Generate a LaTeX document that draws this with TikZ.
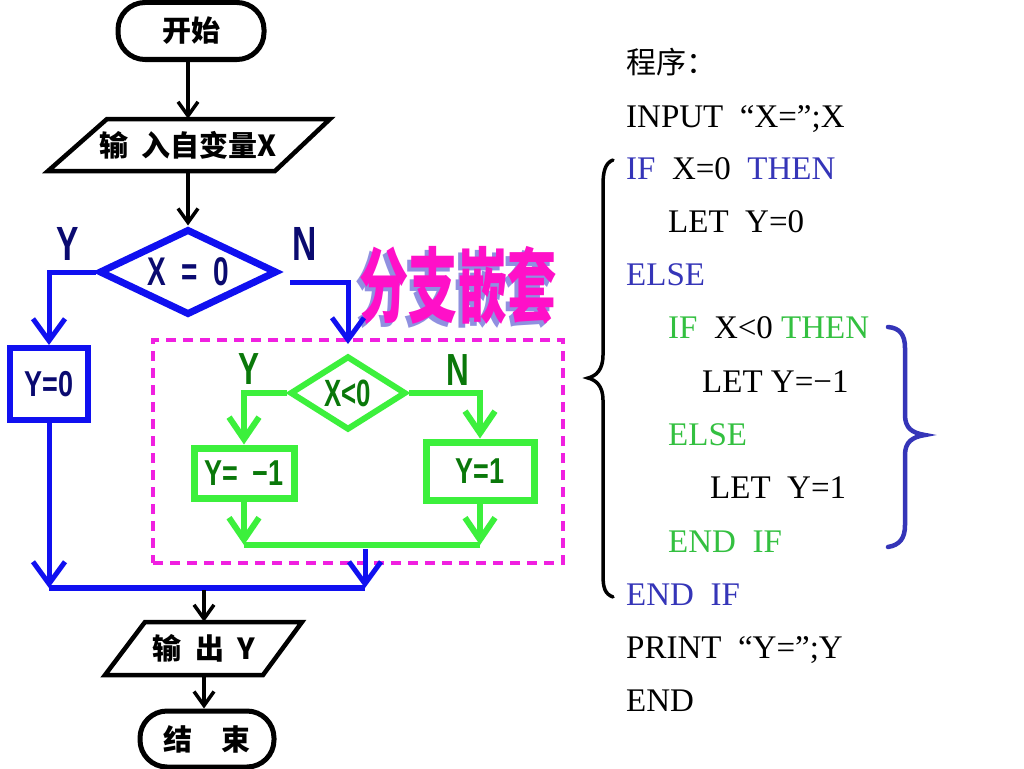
\documentclass[tikz,border=0pt]{standalone}
\usepackage{fontspec}
\setmainfont{Liberation Serif}
\newfontfamily\cjk{Noto Sans CJK SC}
\newfontfamily\arial{Liberation Sans}
\usetikzlibrary{arrows.meta,shapes.geometric}
\definecolor{fblue}{HTML}{1010F0}
\definecolor{fgreen}{HTML}{3CF03C}
\definecolor{dgreen}{HTML}{0A780A}
\definecolor{navy}{HTML}{0A0A70}
\definecolor{cblue}{HTML}{3535B8}
\definecolor{cgreen}{HTML}{33C040}
\definecolor{mag}{HTML}{F020E0}
\definecolor{pinkt}{HTML}{FF10C8}
\definecolor{shadowt}{HTML}{9090E0}
\begin{document}
\begin{tikzpicture}[x=1pt,y=-1pt,
  blk/.style={draw=black,line width=4.5pt},
  barrow/.style={black,line width=3.5pt,-{Straight Barb[length=14pt,width=20pt]}},
  bluearrow/.style={fblue,line width=5pt,-{Straight Barb[length=22pt,width=32pt]}},
  garrow/.style={fgreen,line width=6pt,-{Straight Barb[length=22pt,width=30pt]}},
  term/.style={draw=black,line width=5pt,rounded corners=27pt,inner sep=0pt,font=\cjk\bfseries\fontsize{29}{29}\selectfont},
  io/.style={inner sep=0pt,font=\cjk\bfseries\fontsize{29}{29}\selectfont},
  bbox/.style={draw=fblue,line width=6pt,inner sep=0pt,text=navy,font=\arial\bfseries\fontsize{36}{36}\selectfont},
  gbox/.style={draw=fgreen,line width=7pt,inner sep=0pt,text=dgreen,font=\arial\bfseries\fontsize{36}{36}\selectfont},
  lab/.style={inner sep=0pt,font=\arial\bfseries\fontsize{48}{48}\selectfont},
  code/.style={anchor=base west,inner sep=0pt,font=\fontsize{33}{33}\selectfont},
  ttl/.style={inner sep=0pt,font=\cjk\bfseries\fontsize{82}{82}\selectfont}
]
\fill[white] (0,0) rectangle (1024,768);
\useasboundingbox (0,0) rectangle (1024,768);

% nested box
\node[draw=mag,dash pattern=on 10pt off 7pt,line width=4pt,minimum width=410pt,minimum height=223pt,inner sep=0pt] (nest) at (358,451.5) {};

% flowchart nodes
\node[term,minimum width=146pt,minimum height=57pt] (start) at (191,31) {开始};
\node[io,minimum width=282pt,minimum height=52pt] (in) at (188,145) {输\ \ 入自变量X};
\draw[blk] (107,119) -- (330,119) -- (275,171) -- (48,171) -- cycle;
\node[diamond,draw=fblue,line width=7pt,minimum width=178pt,minimum height=86pt,inner sep=0pt,text=navy,font=\arial\bfseries\fontsize{40}{40}\selectfont] (d1) at (188,272) {\makebox[0pt]{\scalebox{0.7}[1]{X\hspace{22pt}=\hspace{22pt}0}}};
\node[bbox,minimum width=78pt,minimum height=72pt] (y0) at (49,384) {\scalebox{0.75}[1]{Y=0}};
\node[diamond,draw=fgreen,line width=6pt,minimum width=116pt,minimum height=74pt,inner sep=0pt,text=dgreen,font=\arial\bfseries\fontsize{38}{38}\selectfont] (d2) at (348,393) {\makebox[0pt]{\scalebox{0.68}[1]{X<0}}};
\node[gbox,minimum width=100pt,minimum height=50pt] (m1) at (244,473) {\scalebox{0.75}[1]{Y=\ \ −1}};
\node[gbox,minimum width=108pt,minimum height=58pt] (p1) at (480,471) {\scalebox{0.75}[1]{Y=1}};
\node[io,minimum width=197pt,minimum height=53pt] (out) at (204,648.5) {输\ \ 出\ \ Y};
\draw[blk] (145,622) -- (302,622) -- (263,675) -- (105,675) -- cycle;
\node[term,minimum width=134pt,minimum height=56pt] (end) at (207,739) {结\hspace{30pt}束};

% labels
\node[lab,text=navy] (ly1) at (68,244) {\scalebox{0.7}[1]{Y}};
\node[lab,text=navy] (ln1) at (305,244) {\scalebox{0.7}[1]{N}};
\node[lab,text=dgreen,font=\arial\bfseries\fontsize{45}{45}\selectfont] (ly2) at (249,369) {\scalebox{0.7}[1]{Y}};
\node[lab,text=dgreen,font=\arial\bfseries\fontsize{45}{45}\selectfont] (ln2) at (458,370) {\scalebox{0.7}[1]{N}};

% title
\node[ttl,text=shadowt] (tsh) at (454,289) {\scalebox{0.6}[1]{分支嵌套}};
\node[ttl,text=pinkt] (title) at (458,285) {\scalebox{0.6}[1]{分支嵌套}};

% connectors
\draw[barrow] (in.north |- start.south) -- (in.north);
\draw[barrow] (in.south) -- (d1.north);
\draw[bluearrow] (d1.west) -| (y0.north);
\coordinate (nst) at (290,282);
\draw[bluearrow,shorten >=9pt] (nst) -| (d2.north);
\draw[garrow] (d2.west) -| (m1.north);
\draw[garrow] (d2.east) -| (p1.north);
\coordinate (gl) at (244,545);
\coordinate (gr) at (480,545);
\draw[garrow] (m1.south) -- (gl);
\draw[garrow] (p1.south) -- (gr);
\draw[fgreen,line width=6pt] (gl) -- (gr);
\coordinate (bm) at (365,549);
\coordinate (bj) at (365,588);
\coordinate (bl) at (49,588);
\draw[bluearrow] (bm) -- (bj);
\draw[bluearrow] (y0.south) -- (bl);
\draw[fblue,line width=6pt] (bl) -- (bj);
\coordinate (oj) at (204,590);
\draw[barrow] (oj) -- (out.north);
\draw[barrow] (out.south) -- (out.south |- end.north);

% code
\node[code,font=\cjk\fontsize{30}{30}\selectfont] (c0) at (626,73) {程序：};
\node[code] (c1) at (626,127) {INPUT\ \ “X=”;X};
\node[code] (c2) at (626,179) {\textcolor{cblue}{IF}\ \ X=0\ \ \textcolor{cblue}{THEN}};
\node[code] (c3) at (668,232) {LET\ \ Y=0};
\node[code,text=cblue] (c4) at (626,285) {ELSE};
\node[code] (c5) at (668,338) {\textcolor{cgreen}{IF}\ \ X<0 \textcolor{cgreen}{THEN}};
\node[code] (c6) at (702,392) {LET Y=−1};
\node[code,text=cgreen] (c7) at (668,445) {ELSE};
\node[code] (c8) at (710,498) {LET\ \ Y=1};
\node[code,text=cgreen] (c9) at (668,552) {END\ \ IF};
\node[code,text=cblue] (c10) at (626,605) {END\ \ IF};
\node[code] (c11) at (626,658) {PRINT\ \ “Y=”;Y};
\node[code] (c12) at (626,711) {END};

% braces
\draw[line width=3.5pt,line cap=round] (613,160) .. controls (605,163) and (603,172) .. (603,185) -- (603,355) .. controls (603,370) and (596,376) .. (588,378) .. controls (596,380) and (603,386) .. (603,400) -- (603,575) .. controls (603,588) and (605,594) .. (613,597);
\draw[cblue,line width=4.5pt,line cap=round] (888,327) .. controls (900,328) and (905,335) .. (905,348) -- (905,415) .. controls (905,428) and (912,433) .. (925,435) .. controls (912,437) and (905,442) .. (905,455) -- (905,525) .. controls (905,538) and (900,545) .. (888,547);
\end{tikzpicture}
\end{document}
